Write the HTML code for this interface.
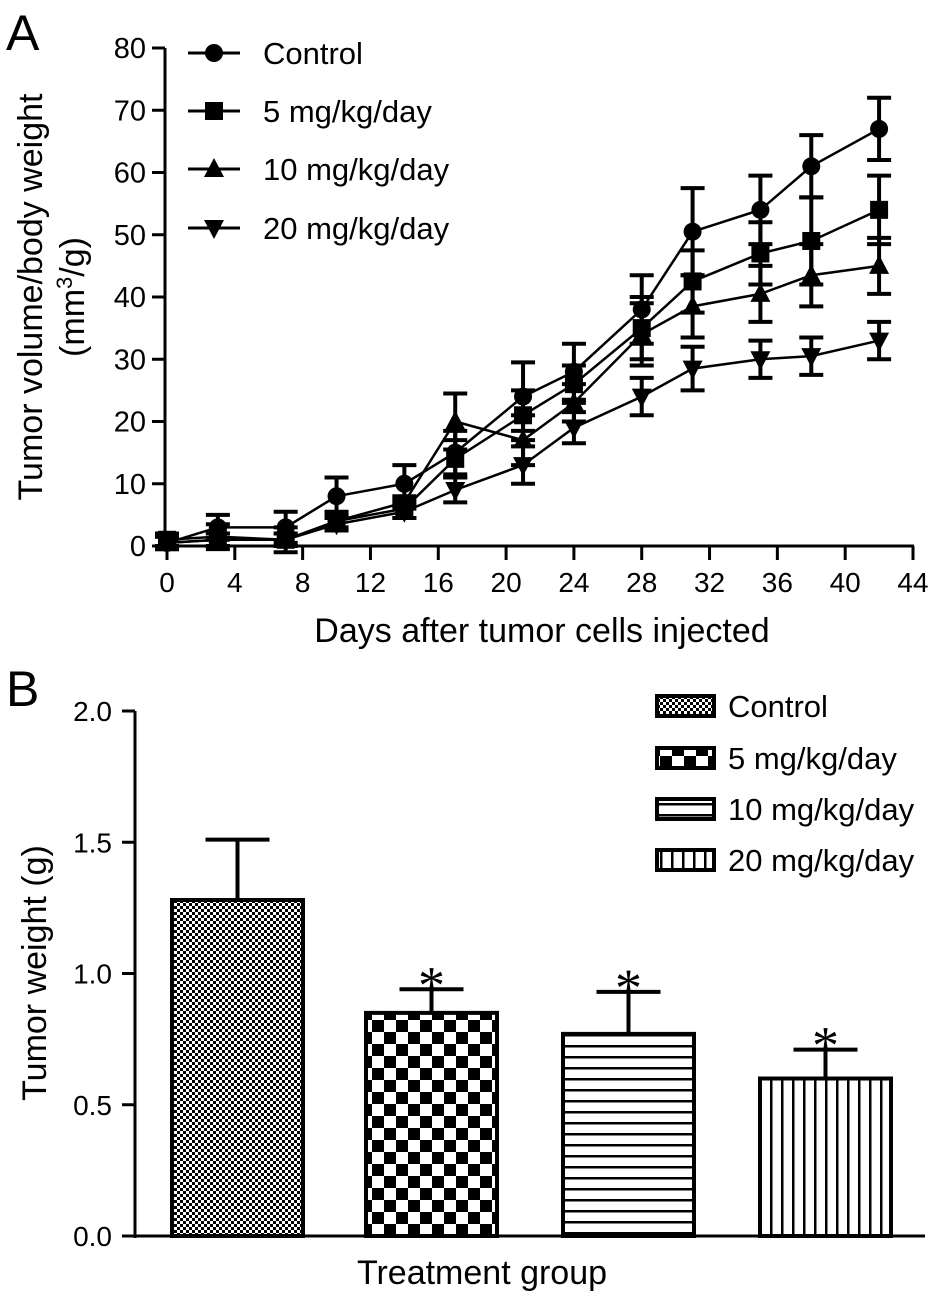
<!DOCTYPE html>
<html><head><meta charset="utf-8"><style>
html,body{margin:0;padding:0;background:#fff}
svg{display:block;font-family:"Liberation Sans",Arial,sans-serif}
</style></head><body>
<svg id="fig" width="945" height="1303" viewBox="0 0 945 1303">
<defs>
<pattern id="pCtrl" width="6" height="6" patternUnits="userSpaceOnUse"><rect width="6" height="6" fill="#fff"/><rect width="3" height="3" fill="#000"/><rect x="3" y="3" width="3" height="3" fill="#000"/></pattern>
<pattern id="p5" width="24" height="24" patternUnits="userSpaceOnUse"><rect width="24" height="24" fill="#fff"/><rect width="12" height="12" fill="#000"/><rect x="12" y="12" width="12" height="12" fill="#000"/></pattern>
<pattern id="p10" width="11" height="11" patternUnits="userSpaceOnUse"><rect width="11" height="11" fill="#fff"/><rect y="0" width="11" height="2.5" fill="#000"/></pattern>
<pattern id="p20" width="11" height="11" patternUnits="userSpaceOnUse"><rect width="11" height="11" fill="#fff"/><rect x="0" width="2.5" height="11" fill="#000"/></pattern>
</defs>
<g id="panelA"></g>
<g id="panelB"></g>
</svg>
<script>
const NS="http://www.w3.org/2000/svg";
// Panel A data
const days=[0,3,7,10,14,17,21,24,28,31,35,38,42];
const seriesNames=["Control","5 mg/kg/day","10 mg/kg/day","20 mg/kg/day"];
const ctrlVals=[0.5,3,3,8,10,15,24,28,38,50.5,54,61,67];
const ctrlErr=[1,2,2.5,3,3,3.5,5.5,4.5,5.5,7,5.5,5,5];
const mg5Vals=[1,1.5,1,4,6,14,21,26,35,42.5,47,49,54];
const mg5Err=[1,2,2,1.5,1.5,3,4,3,5,5,5,7,5.5];
const mg10Vals=[0.5,1,1,4,7,20,17,23,34,38.5,40.5,43.5,45];
const mg10Err=[1,1,1,1,1,4.5,4,3,5,5,4.5,5,4.5];
const mg20Vals=[0.5,1,1,3.5,5.5,9,13,19,24,28.5,30,30.5,33];
const mg20Err=[1,1,1,1,1,2,3,2.5,3,3.5,3,3,3];
const xTicksA=[0,4,8,12,16,20,24,28,32,36,40,44];
const yTicksA=[0,10,20,30,40,50,60,70,80];
// Panel B data
const groups=["Control","5 mg/kg/day","10 mg/kg/day","20 mg/kg/day"];
const weights=[1.28,0.85,0.77,0.60];
const weightErr=[0.23,0.09,0.16,0.11];
const signif=[false,true,true,true];
const yTicksB=[0.0,0.5,1.0,1.5,2.0];

function el(tag,attrs,parent,text){const e=document.createElementNS(NS,tag);for(const k in attrs)e.setAttribute(k,attrs[k]);if(text!==undefined)e.textContent=text;parent.appendChild(e);return e;}

// ---- Panel A ----
const A=document.getElementById('panelA');
const xA=d=>167+(d/44)*(913-167);
const yA=v=>546-(v/80)*(546-48);
el('text',{x:6,y:50,'font-size':50,},A,'A');
el('line',{x1:165,y1:48,x2:165,y2:548,stroke:'#000','stroke-width':3,},A);
el('line',{x1:165,y1:546,x2:914,y2:546,stroke:'#000','stroke-width':3,},A);
yTicksA.forEach(v=>{
 const t=el('line',{x1:152,y1:yA(v),x2:165,y2:yA(v),stroke:'#000','stroke-width':3},A);
 
 const l=el('text',{x:146,y:yA(v)+10,'font-size':29,'text-anchor':'end'},A,String(v));
 
});
xTicksA.forEach(v=>{
 const t=el('line',{x1:xA(v),y1:546,x2:xA(v),y2:560,stroke:'#000','stroke-width':3},A);
 
 const l=el('text',{x:xA(v),y:592,'font-size':28,'text-anchor':'middle'},A,String(v));
 
});
el('text',{x:542,y:642,'font-size':34,'text-anchor':'middle',},A,'Days after tumor cells injected');
el('text',{transform:'translate(42,297) rotate(-90)','font-size':34,'text-anchor':'middle',},A,'Tumor volume/body weight');
const yt2=el('text',{transform:'translate(84,297) rotate(-90)','font-size':34,'text-anchor':'middle',},A);
yt2.innerHTML='(mm<tspan font-size="22" dy="-12">3</tspan><tspan dy="12">/g)</tspan>';

function marker(kind,x,y,parent){
 let m;
 if(kind===0)m=el('circle',{cx:x,cy:y,r:9,fill:'#000'},parent);
 else if(kind===1)m=el('rect',{x:x-9,y:y-9,width:18,height:18,fill:'#000'},parent);
 else if(kind===2)m=el('polygon',{points:`${x},${y-11} ${x+10},${y+8} ${x-10},${y+8}`,fill:'#000'},parent);
 else m=el('polygon',{points:`${x},${y+11} ${x+10},${y-8} ${x-10},${y-8}`,fill:'#000'},parent);
 return m;
}
const allVals=[ctrlVals,mg5Vals,mg10Vals,mg20Vals];
const allErr=[ctrlErr,mg5Err,mg10Err,mg20Err];
allVals.forEach((vals,si)=>{
 const g=el('g',{},A);
 
 
 const pts=days.map((d,i)=>xA(d)+','+yA(vals[i])).join(' ');
 el('polyline',{points:pts,fill:'none',stroke:'#000','stroke-width':2.5},g);
 days.forEach((d,i)=>{
  const x=xA(d),y=yA(vals[i]),e=allErr[si][i];
  const eb=el('path',{d:`M${x},${yA(vals[i]-e)}V${yA(vals[i]+e)}M${x-12},${yA(vals[i]+e)}h24M${x-12},${yA(vals[i]-e)}h24`,stroke:'#000','stroke-width':4,fill:'none'},g);
  
  const m=marker(si,x,y,g);
  
 });
});
const legYA=[53,111,169,228];
seriesNames.forEach((n,i)=>{
 const g=el('g',{},A);
 
 
 el('line',{x1:188,y1:legYA[i],x2:240,y2:legYA[i],stroke:'#000','stroke-width':3},g);
 marker(i,214,legYA[i],g);
 el('text',{x:263,y:legYA[i]+11,'font-size':31},g,n);
});

// ---- Panel B ----
const B=document.getElementById('panelB');
const yB=v=>1236-(v/2)*(1236-711);
const barX=[172,366,563,760],barW=131;
const fills=['url(#pCtrl)','url(#p5)','url(#p10)','url(#p20)'];
el('text',{x:6,y:706,'font-size':50,},B,'B');
el('line',{x1:135,y1:711,x2:135,y2:1238,stroke:'#000','stroke-width':3,},B);
el('line',{x1:134,y1:1236,x2:925,y2:1236,stroke:'#000','stroke-width':3,},B);
yTicksB.forEach(v=>{
 const t=el('line',{x1:122,y1:yB(v),x2:135,y2:yB(v),stroke:'#000','stroke-width':3},B);
 
 const l=el('text',{x:112,y:yB(v)+10,'font-size':28,'text-anchor':'end'},B,v.toFixed(1));
 
});
el('text',{transform:'translate(46,973) rotate(-90)','font-size':34,'text-anchor':'middle',},B,'Tumor weight (g)');
el('text',{x:482,y:1284,'font-size':34,'text-anchor':'middle',},B,'Treatment group');
weights.forEach((w,i)=>{
 const x=barX[i],cx=x+barW/2,top=yB(w),et=yB(w+weightErr[i]);
 const eb=el('path',{d:`M${cx},${top}V${et}M${cx-32},${et}h64`,stroke:'#000','stroke-width':4,fill:'none'},B);
 
 const r=el('rect',{x:x,y:top,width:barW,height:1236-top,fill:fills[i],stroke:'#000','stroke-width':4},B);
 
 if(signif[i]){
  const s=el('text',{x:cx,y:et+14,'font-size':54,'text-anchor':'middle','font-family':'Liberation Serif, serif'},B,'*');
  
 }
});
const legYB=[706,758,809,860];
groups.forEach((n,i)=>{
 const g=el('g',{},B);
 
 
 el('rect',{x:657,y:legYB[i]-10,width:57,height:20,fill:fills[i],stroke:'#000','stroke-width':4},g);
 el('text',{x:728,y:legYB[i]+11,'font-size':31},g,n);
});
</script>
</body></html>
